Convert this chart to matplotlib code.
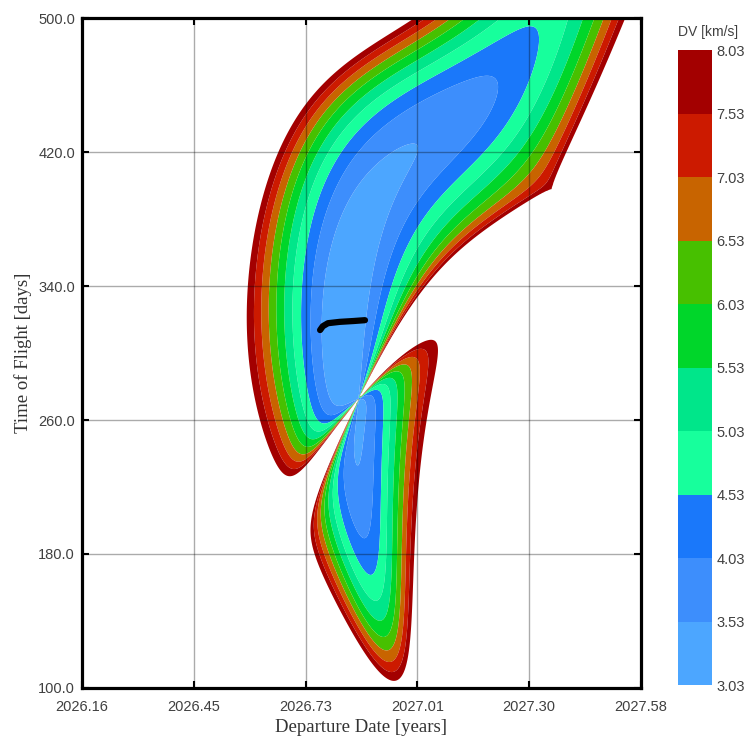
import numpy as np
import matplotlib
matplotlib.use("Agg")
import matplotlib.pyplot as plt
from matplotlib.colors import ListedColormap, BoundaryNorm
from matplotlib.cm import ScalarMappable

# search window
dep_range = [2026.16, 2027.58]      # departure date, decimal years
tof_range = [100.0, 500.0]          # time of flight, days
x_tick_labels = ["2026.16", "2026.45", "2026.73", "2027.01", "2027.30", "2027.58"]
y_ticks = [100, 180, 260, 340, 420, 500]

# DV contour levels and band colours (km/s)
dv_levels = [3.03, 3.53, 4.03, 4.53, 5.03, 5.53, 6.03, 6.53, 7.03, 7.53, 8.03]
band_colors = ["#4ca6ff", "#3d8efc", "#1a78fa", "#17ff9c", "#00e68a",
               "#00d62a", "#47c000", "#c86400", "#cc1a00", "#a30000"]

# optimiser path drawn on top
path_dep = [2026.765, 2026.772, 2026.785, 2026.815, 2026.85, 2026.879]
path_tof = [313.7, 316.0, 317.8, 318.6, 319.1, 319.6]

# mean orbital elements (J2000 ecliptic): a [AU], e, I, L, long. peri, long. node [deg]
earth_el = [1.00000261, 0.01671123, -0.00001531, 100.46457166, 102.93768193, 0.0]
earth_rate = [0.00000562, -0.00004392, -0.01294668, 35999.37244981, 0.32327364, 0.0]
mars_el = [1.52371034, 0.09339410, 1.84969142, -4.55343205, -23.94362959, 49.55953891]
mars_rate = [0.00001847, 0.00007882, -0.00813131, 19140.30268499, 0.44441088, -0.29257343]

MU = 1.32712440018e11   # km^3/s^2
AU = 1.495978707e8      # km


def state(el, rate, jd):
    T = (jd - 2451545.0) / 36525.0
    a, e, inc, L, wbar, node = [np.asarray(el[k] + rate[k] * T) for k in range(6)]
    a = a * AU
    inc, L, wbar, node = np.radians(inc), np.radians(L), np.radians(wbar), np.radians(node)
    M = np.mod(L - wbar, 2 * np.pi)
    w = wbar - node
    E = M.copy()
    for _ in range(20):
        E = E - (E - e * np.sin(E) - M) / (1 - e * np.cos(E))
    n = np.sqrt(MU / a**3)
    Edot = n / (1 - e * np.cos(E))
    xp = a * (np.cos(E) - e)
    yp = a * np.sqrt(1 - e**2) * np.sin(E)
    vxp = -a * np.sin(E) * Edot
    vyp = a * np.sqrt(1 - e**2) * np.cos(E) * Edot
    cw, sw, cO, sO, ci, si = np.cos(w), np.sin(w), np.cos(node), np.sin(node), np.cos(inc), np.sin(inc)
    R = [[cw * cO - sw * sO * ci, -sw * cO - cw * sO * ci],
         [cw * sO + sw * cO * ci, -sw * sO + cw * cO * ci],
         [sw * si, cw * si]]
    r = np.array([R[i][0] * xp + R[i][1] * yp for i in range(3)])
    v = np.array([R[i][0] * vxp + R[i][1] * vyp for i in range(3)])
    return r, v


def stumpff(z):
    C = np.empty_like(z)
    S = np.empty_like(z)
    p, m, o = z > 1e-8, z < -1e-8, np.abs(z) <= 1e-8
    sp, sm = np.sqrt(z[p]), np.sqrt(-z[m])
    C[p] = (1 - np.cos(sp)) / z[p]
    S[p] = (sp - np.sin(sp)) / sp**3
    C[m] = (np.cosh(sm) - 1) / (-z[m])
    S[m] = (np.sinh(sm) - sm) / sm**3
    C[o] = 0.5
    S[o] = 1 / 6
    return C, S


def lambert(r1, r2, dt):
    r1n = np.linalg.norm(r1, axis=0)
    r2n = np.linalg.norm(r2, axis=0)
    cosd = np.clip(np.sum(r1 * r2, axis=0) / (r1n * r2n), -1, 1)
    dth = np.arccos(cosd)
    cz = r1[0] * r2[1] - r1[1] * r2[0]
    dth = np.where(cz < 0, 2 * np.pi - dth, dth)
    A = np.sin(dth) * np.sqrt(r1n * r2n / (1 - np.cos(dth) + 1e-14))
    lo = np.full_like(dt, -4 * np.pi**2)
    hi = np.full_like(dt, 4 * np.pi**2 - 1e-6)
    for _ in range(70):
        z = 0.5 * (lo + hi)
        C, S = stumpff(z)
        y = r1n + r2n + A * (z * S - 1) / np.sqrt(C)
        yp = np.maximum(y, 0)
        F = (yp / C)**1.5 * S + A * np.sqrt(yp) - np.sqrt(MU) * dt
        F = np.where(y < 0, -1.0, F)
        lo = np.where(F < 0, z, lo)
        hi = np.where(F >= 0, z, hi)
    z = 0.5 * (lo + hi)
    C, S = stumpff(z)
    y = np.maximum(r1n + r2n + A * (z * S - 1) / np.sqrt(C), 1e-9)
    f = 1 - y / r1n
    g = A * np.sqrt(y / MU)
    v1 = (r2 - f * r1) / g
    return v1


dep = np.linspace(dep_range[0], dep_range[1], 420)
tof = np.linspace(tof_range[0], tof_range[1], 420)
DEP, TOF = np.meshgrid(dep, tof)
jd_dep = 2451545.0 + (DEP - 2000.0) * 365.25
jd_arr = jd_dep + TOF

with np.errstate(all="ignore"):
    rE, vE = state(earth_el, earth_rate, jd_dep)
    rM, vM = state(mars_el, mars_rate, jd_arr)
    v1 = lambert(rE, rM, TOF * 86400.0)
    DV = np.linalg.norm(v1 - vE, axis=0)
DV = np.where(np.isfinite(DV), DV, 99.0)

fig = plt.figure(figsize=(7.51, 7.42), dpi=100)
ax = fig.add_axes([0.109, 0.0728, 0.7445, 0.9029])

fill_levels = [0.0] + dv_levels[1:]
ax.contourf(DEP, TOF, DV, levels=fill_levels, colors=band_colors, antialiased=True)
ax.plot(path_dep, path_tof, color="black", lw=4.5, solid_capstyle="round", zorder=4)

ax.set_xlim(dep_range)
ax.set_ylim(tof_range)
ax.set_xticks(np.linspace(dep_range[0], dep_range[1], len(x_tick_labels)))
ax.set_xticklabels(x_tick_labels)
ax.set_yticks(y_ticks)
ax.set_yticklabels([f"{v:.1f}" for v in y_ticks])
ax.grid(True, color="black", alpha=0.33, lw=1.0, zorder=3)
ax.set_axisbelow(False)
ax.tick_params(direction="in", length=5, width=1.5, top=True, right=True,
               labelsize=10.5, labelcolor="#404040")
ax.tick_params(axis="x", pad=9)
ax.tick_params(axis="y", pad=5)
for lab in ax.get_xticklabels() + ax.get_yticklabels():
    lab.set_family("Liberation Sans")
for sp in ax.spines.values():
    sp.set_linewidth(2.3)
    sp.set_zorder(5)

ax.set_xlabel("Departure Date [years]", family="Liberation Serif", fontsize=13.5,
              color="#333333", labelpad=3)
ax.set_ylabel("Time of Flight [days]", family="Liberation Serif", fontsize=13.5,
              color="#333333")
ax.yaxis.set_label_coords(-0.09, 0.5)

cax = fig.add_axes([0.9028, 0.0768, 0.0453, 0.8558])
sm = ScalarMappable(norm=BoundaryNorm(dv_levels, len(band_colors)),
                    cmap=ListedColormap(band_colors))
cb = fig.colorbar(sm, cax=cax, ticks=dv_levels)
cb.outline.set_visible(False)
cb.ax.set_yticklabels([f"{v:.2f}" for v in dv_levels])
cb.ax.tick_params(length=0, labelsize=10.5, labelcolor="#404040", pad=3)
for lab in cb.ax.get_yticklabels():
    lab.set_family("Liberation Sans")
fig.text(0.943, 0.957, "DV [km/s]", family="Liberation Sans", fontsize=10,
         color="#404040", ha="center", va="center")

fig.savefig("out.png", dpi=100)
